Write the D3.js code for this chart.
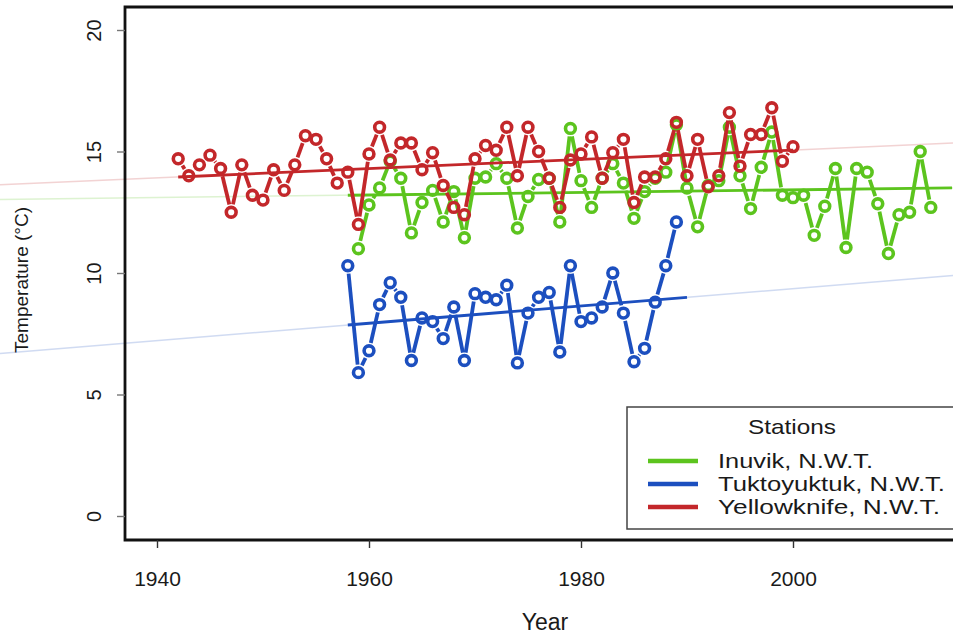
<!DOCTYPE html>
<html>
    <head>
        <script src="https://d3js.org/d3.v7.min.js"></script>
        <style>
            body { margin: 0; background: #fff; }
            svg { display: block; font-family: "Liberation Sans", Arial, sans-serif; }
        </style>
    </head>
    <body>
        <div class="chart"></div>
        <script>
            // Summer mean temperatures
            let stations = ["Inuvik, N.W.T.", "Tuktoyuktuk, N.W.T.", "Yellowknife, N.W.T."];
            let colors = ["#5cc41e", "#1c4fbf", "#c3272a"];

            let inuvikStart = 1959;
            let inuvik = [11.0, 12.8, 13.5, 14.6, 13.9, 11.65, 12.9, 13.4, 12.1, 13.35,
                          11.45, 13.9, 13.95, 14.5, 13.9, 11.85, 13.15, 13.85, 13.9, 12.1,
                          15.95, 13.8, 12.7, 13.9, 14.5, 13.7, 12.25, 13.35, 13.9, 14.15,
                          16.1, 13.5, 11.9, 13.6, 13.8, 16.0, 14.0, 12.65, 14.35, 15.8,
                          13.2, 13.1, 13.2, 11.55, 12.75, 14.3, 11.05, 14.3, 14.15, 12.85,
                          10.8, 12.4, 12.5, 15.0, 12.7];

            let tuktoyaktukStart = 1958;
            let tuktoyaktuk = [10.3, 5.9, 6.8, 8.7, 9.6, 9.0, 6.4, 8.15, 8.0, 7.3,
                               8.6, 6.4, 9.15, 9.0, 8.9, 9.5, 6.3, 8.35, 9.0, 9.2,
                               6.75, 10.3, 8.0, 8.15, 8.6, 10.0, 8.35, 6.35, 6.9, 8.8,
                               10.3, 12.1];

            let yellowknifeStart = 1942;
            let yellowknife = [14.7, 14.0, 14.45, 14.85, 14.3, 12.5, 14.45, 13.2, 13.0, 14.25,
                               13.4, 14.45, 15.65, 15.5, 14.7, 13.7, 14.15, 12.0, 14.9, 16.0,
                               14.65, 15.35, 15.35, 14.25, 14.95, 13.6, 12.7, 12.4, 14.7, 15.25,
                               15.05, 16.0, 14.0, 16.0, 15.0, 13.9, 12.7, 14.65, 14.9, 15.6,
                               13.9, 14.95, 15.5, 12.9, 13.95, 13.95, 14.7, 16.2, 14.0, 15.5,
                               13.55, 14.0, 16.6, 14.4, 15.7, 15.7, 16.8, 14.6, 15.2];

            // trend lines: [year, value] at both ends of the solid part
            let inuvikTrend = [[1958, 13.2], [2015, 13.5]];
            let tuktoyaktukTrend = [[1958, 7.86], [1990, 9.0]];
            let yellowknifeTrend = [[1942, 13.95], [2000, 15.06]];

            let xTicks = [1940, 1960, 1980, 2000];
            let yTicks = [0, 5, 10, 15, 20];

            let width = 953, height = 637;
            let plotLeft = 125, plotTop = 7, plotBottom = 540;

            let svg = d3.select("div.chart").append("svg")
                .attr("width", width)
                .attr("height", height);

            let x = d3.scaleLinear().domain([1940, 2000]).range([157, 793]);
            let y = d3.scaleLinear().domain([0, 20]).range([516, 30]);

            function toPoints(start, values) {
                return values.map((v, i) => [start + i, v]);
            }

            let series = [
                { pts: toPoints(inuvikStart, inuvik), trend: inuvikTrend, color: colors[0] },
                { pts: toPoints(tuktoyaktukStart, tuktoyaktuk), trend: tuktoyaktukTrend, color: colors[1] },
                { pts: toPoints(yellowknifeStart, yellowknife), trend: yellowknifeTrend, color: colors[2] }
            ];

            svg.append("clipPath").attr("id", "plot")
                .append("rect").attr("x", 0).attr("y", plotTop).attr("width", width).attr("height", plotBottom - plotTop);

            let plot = svg.append("g").attr("clip-path", "url(#plot)");

            // faint extended trend lines across the whole width
            series.forEach(s => {
                let [a, b] = s.trend;
                let slope = (b[1] - a[1]) / (b[0] - a[0]);
                let x0 = x.invert(0), x1 = x.invert(width);
                plot.append("line")
                    .attr("x1", 0).attr("y1", y(a[1] + slope * (x0 - a[0])))
                    .attr("x2", width).attr("y2", y(a[1] + slope * (x1 - a[0])))
                    .attr("stroke", s.color)
                    .attr("stroke-width", 1.5)
                    .attr("opacity", 0.2);
            });

            // lines with gaps around the points, then open circles
            let gap = 8;
            series.forEach(s => {
                let g = plot.append("g");
                for (let i = 1; i < s.pts.length; i++) {
                    let ax = x(s.pts[i - 1][0]), ay = y(s.pts[i - 1][1]);
                    let bx = x(s.pts[i][0]), by = y(s.pts[i][1]);
                    let len = Math.hypot(bx - ax, by - ay);
                    if (len <= 2 * gap) continue;
                    let ux = (bx - ax) / len, uy = (by - ay) / len;
                    g.append("line")
                        .attr("x1", ax + ux * gap).attr("y1", ay + uy * gap)
                        .attr("x2", bx - ux * gap).attr("y2", by - uy * gap)
                        .attr("stroke", s.color)
                        .attr("stroke-width", 3.8);
                }
                g.selectAll("circle").data(s.pts).join("circle")
                    .attr("cx", d => x(d[0]))
                    .attr("cy", d => y(d[1]))
                    .attr("r", 4.9)
                    .attr("fill", "none")
                    .attr("stroke", s.color)
                    .attr("stroke-width", 3.6);

                // solid trend line
                plot.append("line")
                    .attr("x1", x(s.trend[0][0])).attr("y1", y(s.trend[0][1]))
                    .attr("x2", x(s.trend[1][0])).attr("y2", y(s.trend[1][1]))
                    .attr("stroke", s.color)
                    .attr("stroke-width", 2.8);
            });

            // frame (right side runs off the picture)
            svg.append("path")
                .attr("d", `M${width + 5},${plotTop} H${plotLeft} V${plotBottom} H${width + 5}`)
                .attr("fill", "none")
                .attr("stroke", "#111")
                .attr("stroke-width", 2.8);

            // x axis
            let xAxis = svg.append("g")
                .attr("transform", `translate(0,${plotBottom})`)
                .call(d3.axisBottom(x).tickValues(xTicks).tickFormat(d3.format("d")).tickSize(8).tickPadding(23));
            xAxis.select(".domain").remove();
            xAxis.selectAll("line").attr("stroke", "#333").attr("stroke-width", 1.4);
            xAxis.selectAll("text").attr("font-size", 21).attr("fill", "#1a1a1a").attr("font-family", "Liberation Sans, Arial");

            // y axis with rotated labels
            let yAxis = svg.append("g")
                .attr("transform", `translate(${plotLeft},0)`)
                .call(d3.axisLeft(y).tickValues(yTicks).tickSize(8));
            yAxis.select(".domain").remove();
            yAxis.selectAll("line").attr("stroke", "#777").attr("stroke-width", 1.4);
            yAxis.selectAll("text")
                .attr("transform", "rotate(-90)")
                .attr("x", 0).attr("y", -24).attr("dy", 0)
                .attr("text-anchor", "middle")
                .attr("font-size", 20).attr("fill", "#1a1a1a")
                .attr("font-family", "Liberation Sans, Arial");

            svg.append("text")
                .attr("transform", "translate(28,280) rotate(-90)")
                .attr("text-anchor", "middle")
                .attr("font-size", 19).attr("fill", "#1a1a1a")
                .text("Temperature (°C)");

            svg.append("text")
                .attr("x", 545).attr("y", 630)
                .attr("text-anchor", "middle")
                .attr("font-size", 23).attr("fill", "#1a1a1a")
                .text("Year");

            // legend
            let legend = svg.append("g");
            legend.append("rect")
                .attr("x", 627).attr("y", 407).attr("width", 340).attr("height", 122)
                .attr("fill", "#fff").attr("stroke", "#444").attr("stroke-width", 1.5);
            legend.append("text")
                .attr("x", 748).attr("y", 434)
                .attr("font-size", 21).attr("fill", "#1a1a1a")
                .attr("textLength", 88).attr("lengthAdjust", "spacingAndGlyphs")
                .text("Stations");
            let legendWidths = [155, 227, 222];
            stations.forEach((name, i) => {
                let ly = 461 + i * 23;
                legend.append("line")
                    .attr("x1", 648).attr("x2", 698).attr("y1", ly).attr("y2", ly)
                    .attr("stroke", colors[i]).attr("stroke-width", 4.5);
                legend.append("text")
                    .attr("x", 718).attr("y", ly + 7)
                    .attr("font-size", 20).attr("fill", "#1a1a1a")
                    .attr("textLength", legendWidths[i]).attr("lengthAdjust", "spacingAndGlyphs")
                    .text(name);
            });
        </script>
    </body>
</html>
